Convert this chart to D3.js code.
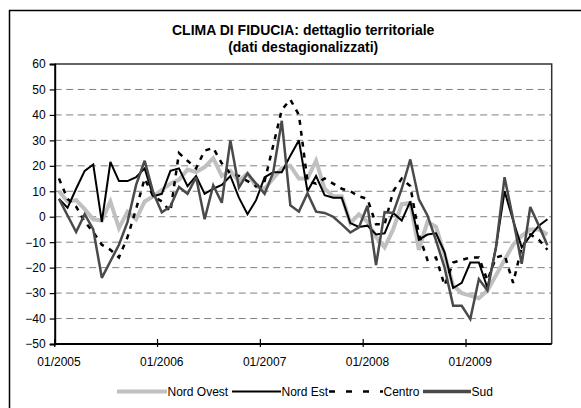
<!DOCTYPE html>
<html>
<head>
<meta charset="utf-8">
<script src="https://cdn.jsdelivr.net/npm/d3@7/dist/d3.min.js"></script>
<style>
  html, body { margin: 0; padding: 0; background: #fff; }
  svg { display: block; font-family: "Liberation Sans", Arial, sans-serif; }
</style>
</head>
<body>
<svg id="chart" width="581" height="408"></svg>
<script>
// ---- data ----
const titleLines = ["CLIMA DI FIDUCIA: dettaglio territoriale", "(dati destagionalizzati)"];
const categories = Array.from({ length: 58 }, (_, i) =>
  String(i % 12 + 1).padStart(2, "0") + "/" + (2005 + Math.floor(i / 12)));
const xTickLabels = ["01/2005", "01/2006", "01/2007", "01/2008", "01/2009"];
const yTicks = [-50, -40, -30, -20, -10, 0, 10, 20, 30, 40, 50, 60];
const seriesNames = ["Nord Ovest", "Nord Est", "Centro", "Sud"];

const nordOvest = [10, 6, 6.5, 3, -1, -1.5, 6, -4.5, 2, -1,
  6, 8, 10.5, 13, 14.5, 18.5, 17.5, 19.5, 23, 16,
  18, 14, 17, 12, 11, 15, 19, 20, 15, 15,
  22, 11, 8, 8, -2.5, 1, -2, -8, -12, -5,
  5, 5.5, -13, -2, -4, -15, -27, -30, -31, -32,
  -29, -23, -17, -11, -7.5, -5, -5, -7];
const nordEst = [7, 3.5, 11, 18, 20.5, -2, 21.5, 14, 14, 15.5,
  19, 8, 9, 18, 19, 12, 16, 9, 11, 12.5,
  16, 7.5, 1, 6.5, 15.5, 17.5, 17.5, 24, 30, 10,
  16, 8.5, 7.5, 7.5, -2.5, -4, -3.5, -7, -6.5, 1.5,
  -1.5, 6, -9, -7, -6.5, -14, -28, -26, -18, -18,
  -28, -12, 10, -1.5, -12, -7.5, -3.5, -1];
const centro = [15, 7, 4, -2, -6, -11, -13, -16, -8, 3,
  15, 8, 6, 2, 25, 22, 19, 26, 27, 21,
  17, 16, 14, 12, 14, 28, 42, 46, 40, 14,
  13, 15, 13, 11, 10, 8, 7, -3, -3, 10,
  15, 12, -7, -17, -16, -27, -18, -17, -16, -16,
  -25, -16, -15, -26, -12, -7, -9, -13];
const sud = [7, 0.5, -6, 1, -5, -24, -17.5, -11, -2, 12.5,
  22, 9.5, 1.7, 4, 11.7, 9, 15.5, -1, 12.3, 5.5,
  30, 11.5, 17, 13, 9, 17.4, 37.7, 4.5, 2, 9.2,
  2, 1.5, 0, -3, -6.2, -4.2, 4.3, -19, 1.8, 1.5,
  11, 22.5, 6.8, 0.5, -9.3, -20, -35, -35, -40.2, -24.5,
  -29, -12, 15.5, -1, -18.5, 3.8, -3.5, -11.2];

// ---- layout / styles ----
const plot = { left: 54.7, right: 551.7, top: 64, bottom: 344 };
const styles = {
  "Nord Ovest": { color: "#c0c0c0", width: 4, dash: null, legendDash: null },
  "Nord Est": { color: "#000000", width: 2, dash: null, legendDash: null },
  "Centro": { color: "#000000", width: 2.5, dash: "5,6", legendDash: "6,11" },
  "Sud": { color: "#4a4a4a", width: 2.5, dash: null, legendDash: null }
};
const seriesValues = [nordOvest, nordEst, centro, sud];

const svg = d3.select("#chart");
svg.append("rect").attr("width", 581).attr("height", 408).attr("fill", "#fff");
// outer frame
svg.append("rect").attr("x", 9.5).attr("y", 10.5).attr("width", 700).attr("height", 600)
  .attr("fill", "none").attr("stroke", "#000").attr("stroke-width", 1.5);

const x = d3.scaleBand().domain(categories).range([plot.left, plot.right]).padding(0);
const xc = d => x(d) + x.bandwidth() / 2;
const y = d3.scaleLinear().domain([-50, 60]).range([plot.bottom, plot.top]);

// title
svg.append("g").selectAll("text").data(titleLines).join("text")
  .attr("x", (plot.left + plot.right) / 2)
  .attr("y", (d, i) => 35 + i * 17)
  .attr("text-anchor", "middle")
  .attr("font-size", 14).attr("font-weight", "bold").attr("fill", "#000")
  .text(d => d);

// gridlines
svg.append("g").selectAll("line").data(yTicks.filter(v => v > -50 && v < 60)).join("line")
  .attr("x1", plot.left).attr("x2", plot.right)
  .attr("y1", d => y(d)).attr("y2", d => y(d))
  .attr("stroke", "#808080").attr("stroke-width", 1).attr("stroke-dasharray", "7,4.5");

// plot frame (top/right)
svg.append("path")
  .attr("d", `M${plot.left},${plot.top}H${plot.right}V${plot.bottom}`)
  .attr("fill", "none").attr("stroke", "#333").attr("stroke-width", 1.5);

// y axis
const yAxis = d3.axisLeft(y).tickValues(yTicks).tickSize(5).tickPadding(4).tickFormat(d3.format("d"));
const gy = svg.append("g").attr("transform", `translate(${plot.left},0)`).call(yAxis);
gy.select(".domain").attr("stroke", "#000").attr("stroke-width", 2);
gy.selectAll(".tick line").attr("stroke", "#000").attr("stroke-width", 1.2);
gy.selectAll(".tick text").attr("font-size", 12).attr("fill", "#000")
  .attr("font-family", "Liberation Sans, Arial, sans-serif");

// x axis: tick marks at yearly category boundaries, labels at category centres
const xAxisG = svg.append("g");
xAxisG.append("line").attr("x1", plot.left).attr("x2", plot.right)
  .attr("y1", plot.bottom).attr("y2", plot.bottom)
  .attr("stroke", "#000").attr("stroke-width", 2);
xAxisG.selectAll("line.xt").data(xTickLabels).join("line").attr("class", "xt")
  .attr("x1", d => x(d)).attr("x2", d => x(d))
  .attr("y1", plot.bottom - 5).attr("y2", plot.bottom + 3)
  .attr("stroke", "#000").attr("stroke-width", 1.2);
xAxisG.selectAll("text").data(xTickLabels).join("text")
  .attr("x", d => xc(d)).attr("y", plot.bottom + 22)
  .attr("text-anchor", "middle").attr("font-size", 12).attr("fill", "#000")
  .text(d => d);

// series lines
const line = d3.line().x((v, i) => xc(categories[i])).y(v => y(v));
seriesNames.forEach((name, k) => {
  const s = styles[name];
  svg.append("path").datum(seriesValues[k])
    .attr("d", line)
    .attr("fill", "none").attr("stroke", s.color).attr("stroke-width", s.width)
    .attr("stroke-linejoin", "miter").attr("stroke-miterlimit", 3)
    .attr("stroke-dasharray", s.dash);
});

// legend
const legendItems = [
  { name: "Nord Ovest", x1: 117, x2: 167 },
  { name: "Nord Est", x1: 232, x2: 281 },
  { name: "Centro", x1: 329, x2: 383 },
  { name: "Sud", x1: 423, x2: 471 }
];
const lg = svg.append("g");
legendItems.forEach(it => {
  const s = styles[it.name];
  lg.append("line").attr("x1", it.x1).attr("x2", it.x2).attr("y1", 391.5).attr("y2", 391.5)
    .attr("stroke", s.color).attr("stroke-width", it.name === "Sud" ? 3.5 : s.width)
    .attr("stroke-dasharray", s.legendDash);
  lg.append("text").attr("x", it.x2 + 0.5).attr("y", 396).attr("font-size", 12)
    .attr("fill", "#000").text(it.name);
});
</script>
</body>
</html>
